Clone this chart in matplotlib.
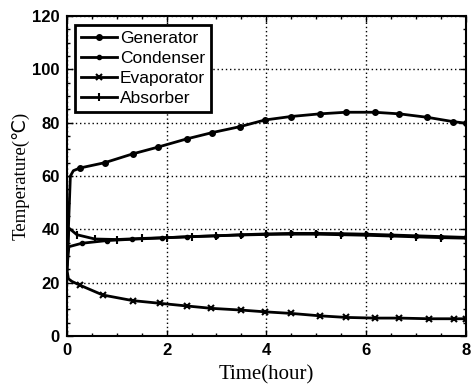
import numpy as np
import matplotlib.pyplot as plt
from matplotlib.ticker import MultipleLocator

# ------- temperature histories (hour, degC) -------
gen_t = [0.0, 0.07, 0.13, 0.26, 0.76, 1.32, 1.82, 2.40, 2.92, 3.47, 3.97,
         4.49, 5.07, 5.59, 6.17, 6.67, 7.23, 7.74, 8.0]
gen_T = [25.0, 60.0, 62.0, 63.0, 65.0, 68.3, 70.8, 73.9, 76.3, 78.5, 81.0,
         82.3, 83.3, 83.9, 83.9, 83.3, 82.0, 80.4, 79.8]

con_t = [0.0, 0.04, 0.30, 0.80, 1.30, 1.90, 2.40, 3.00, 3.50, 4.00, 4.50,
         5.00, 5.50, 6.00, 6.50, 7.00, 7.50, 8.0]
con_T = [25.0, 33.5, 34.8, 35.8, 36.3, 36.8, 37.2, 37.6, 38.0, 38.3, 38.5,
         38.5, 38.4, 38.2, 37.9, 37.6, 37.3, 37.0]

eva_t = [0.0, 0.03, 0.10, 0.26, 0.72, 1.32, 1.86, 2.40, 2.90, 3.50, 3.97,
         4.50, 5.07, 5.60, 6.17, 6.67, 7.27, 7.77, 8.0]
eva_T = [25.0, 21.5, 20.5, 19.1, 15.4, 13.3, 12.3, 11.3, 10.4, 9.75, 9.1,
         8.5, 7.6, 7.0, 6.75, 6.75, 6.5, 6.5, 6.5]

abs_t = [0.0, 0.04, 0.20, 0.56, 1.00, 1.50, 2.00, 2.50, 3.00, 3.50, 4.00,
         4.50, 5.00, 5.50, 6.00, 6.50, 7.00, 7.50, 8.0]
abs_T = [25.0, 40.5, 38.0, 36.4, 36.2, 36.6, 36.9, 37.3, 37.6, 37.9, 38.1,
         38.2, 38.2, 38.0, 37.8, 37.5, 37.2, 36.9, 36.7]

x_ticks = [0, 2, 4, 6, 8]
y_ticks = [0, 20, 40, 60, 80, 100, 120]

fig = plt.figure(figsize=(4.71, 3.89), dpi=100)
ax = fig.add_axes([0.142, 0.136, 0.847, 0.823])

lw = 2.0
ax.plot(gen_t, gen_T, color="black", lw=lw, marker="o", ms=4,
        markevery=list(range(3, len(gen_t))), label="Generator")
ax.plot(con_t, con_T, color="black", lw=lw, marker="o", ms=3,
        markevery=list(range(2, len(con_t))), label="Condenser")
ax.plot(eva_t, eva_T, color="black", lw=lw, marker="x", ms=5, mew=1.5,
        markevery=list(range(3, len(eva_t))), label="Evaporator")
ax.plot(abs_t, abs_T, color="black", lw=lw, marker="|", ms=6, mew=1.5,
        markevery=list(range(2, len(abs_t))), label="Absorber")

ax.set_xlim(0, 8)
ax.set_ylim(0, 120)
ax.set_xticks(x_ticks)
ax.set_yticks(y_ticks)
ax.xaxis.set_minor_locator(MultipleLocator(0.5))
ax.yaxis.set_minor_locator(MultipleLocator(5))
ax.tick_params(which="both", direction="in", top=True, right=True, width=1.0)
ax.tick_params(which="major", length=4, labelsize=12, pad=5)
ax.tick_params(which="minor", length=2.5)
for lab in ax.get_xticklabels() + ax.get_yticklabels():
    lab.set_fontfamily("Liberation Sans")
    lab.set_fontweight("bold")

ax.grid(True, which="major", color="black", linestyle=(0, (1, 2)), lw=1.0)
for sp in ax.spines.values():
    sp.set_linewidth(1.5)

ax.set_xlabel("Time(hour)", family=["Liberation Serif", "DejaVu Serif"],
              fontsize=15, labelpad=5)
ax.set_ylabel("Temperature(\u2103)", family=["Liberation Serif", "DejaVu Sans"],
              fontsize=13.5, labelpad=2)

leg = ax.legend(loc="upper left", bbox_to_anchor=(0.02, 0.972), borderaxespad=0,
                fancybox=False, edgecolor="black", framealpha=1,
                prop={"family": "Liberation Sans", "size": 12.5},
                handlelength=2.1, handletextpad=0.15, labelspacing=0.28,
                borderpad=0.35)
leg.get_frame().set_linewidth(2.0)

fig.savefig("out.png", dpi=100)
